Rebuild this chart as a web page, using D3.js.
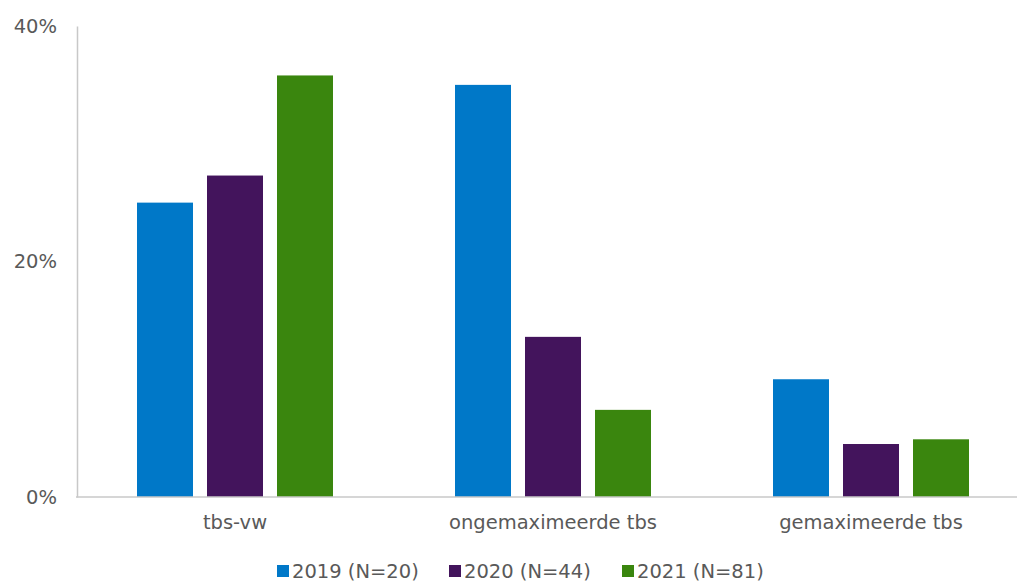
<!DOCTYPE html>
<html>
<head>
<meta charset="utf-8">
<script src="https://cdn.jsdelivr.net/npm/d3@7"></script>
<style>
  body { margin: 0; background: #fff; }
  text { font-family: "DejaVu Sans", Verdana, sans-serif; fill: #595959; }
</style>
</head>
<body>
<script>
// data
const categories = ['tbs-vw', 'ongemaximeerde tbs', 'gemaximeerde tbs'];
const seriesNames = ['2019 (N=20)', '2020 (N=44)', '2021 (N=81)'];
const v2019 = [0.25, 0.35, 0.10];
const v2020 = [0.273, 0.136, 0.045];
const v2021 = [0.358, 0.074, 0.049];
const yTicks = [0, 0.2, 0.4];
const colors = ['#0078c8', '#43145c', '#3a860e'];

const seriesValues = [v2019, v2020, v2021];
const fontSize = '19.5px';

const W = 1017, H = 582;
const svg = d3.select('body').append('svg')
    .attr('width', W)
    .attr('height', H);

const x = d3.scaleBand()
    .domain(categories)
    .range([76, 1030])
    .paddingInner(0)
    .paddingOuter(0);

const inner = d3.scaleBand()
    .domain(seriesNames)
    .range([0, 196])
    .paddingInner(0.2);

const y = d3.scaleLinear()
    .domain([0, 0.4])
    .range([497, 26]);

// bars
const groups = svg.append('g').selectAll('g')
    .data(categories)
    .enter().append('g')
      .attr('transform', d => 'translate(' + (x(d) + (x.bandwidth() - 196) / 2) + ',0)');

groups.selectAll('rect')
    .data((c, i) => seriesNames.map((s, j) => ({s: s, v: seriesValues[j][i], j: j})))
    .enter().append('rect')
      .attr('x', d => inner(d.s))
      .attr('width', inner.bandwidth())
      .attr('y', d => y(d.v))
      .attr('height', d => y(0) - y(d.v))
      .attr('fill', d => colors[d.j]);

// y axis
const yAxis = svg.append('g')
    .attr('transform', 'translate(77,0)')
    .call(d3.axisLeft(y).tickValues(yTicks).tickFormat(d3.format('.0%')).tickSize(0).tickPadding(20));
yAxis.select('.domain').attr('stroke', '#c8c8c8').attr('stroke-width', 1.5);
yAxis.selectAll('text').style('font-size', fontSize).attr('fill', '#595959').style('font-family', '"DejaVu Sans", Verdana, sans-serif');

// x axis
const xAxis = svg.append('g')
    .attr('transform', 'translate(0,497)')
    .call(d3.axisBottom(x).tickSize(0).tickPadding(18));
xAxis.select('.domain').remove();
xAxis.selectAll('text').style('font-size', fontSize).attr('fill', '#595959').style('font-family', '"DejaVu Sans", Verdana, sans-serif');
svg.append('line')
    .attr('x1', 76).attr('x2', W)
    .attr('y1', y(0)).attr('y2', y(0))
    .attr('stroke', '#c8c8c8').attr('stroke-width', 1.5);

// legend
const legendX = [277, 449, 622];
const legend = svg.append('g').selectAll('g')
    .data(seriesNames)
    .enter().append('g')
      .attr('transform', (d, i) => 'translate(' + legendX[i] + ',571)');
legend.append('rect')
    .attr('x', 0).attr('y', -6)
    .attr('width', 12).attr('height', 12)
    .attr('fill', (d, i) => colors[i]);
legend.append('text')
    .attr('x', 15)
    .attr('dy', '0.35em')
    .style('font-size', fontSize)
    .text(d => d);
</script>
</body>
</html>
